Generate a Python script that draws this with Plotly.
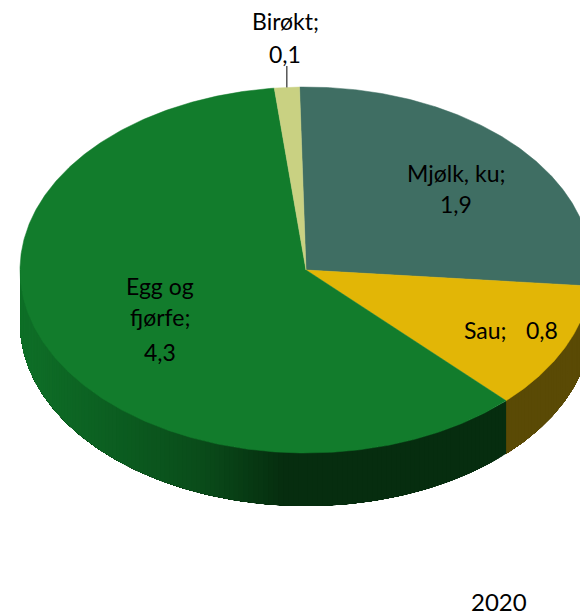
import numpy as np
import plotly.graph_objects as go

categories = ["Mjølk, ku", "Sau", "Egg og fjørfe", "Birøkt"]
values = [1.9, 0.8, 4.3, 0.1]
top_colors = ["#3F6E63", "#E2B606", "#127C2C", "#C9D182"]
side_stops = {
    "Mjølk, ku": [(0, "#1F3731"), (1, "#1F3731")],
    "Sau": [(0, "#5A4A05"), (1, "#5A4A05")],
    "Egg og fjørfe": [(0, "#062D0F"), (0.45, "#062D0F"), (0.62, "#0A4C1A"), (0.8, "#0C5E21"), (1, "#0F7028")],
    "Birøkt": [(0, "#6A7040"), (1, "#6A7040")],
}
label_lines = {
    "Birøkt": [("Birøkt;", 285, 21), ("0,1", 285, 54)],
    "Mjølk, ku": [("Mjølk, ku;", 456, 173), ("1,9", 456, 204)],
    "Sau": [("Sau;", 485, 330), ("0,8", 542, 330)],
    "Egg og fjørfe": [("Egg og", 160, 286), ("fjørfe;", 160, 317), ("4,3", 160, 352)],
}
footer = "2020"

CX, CY, RX, RY, DEPTH = 306, 270, 286, 183, 53
START_DEG = -1.3


def hex_rgb(c):
    return np.array([int(c[i:i + 2], 16) for i in (1, 3, 5)], float)


def stop_color(stops, f):
    fs = [s[0] for s in stops]
    rgb = np.array([hex_rgb(s[1]) for s in stops])
    v = [np.interp(f, fs, rgb[:, i]) for i in range(3)]
    return "rgb(%d,%d,%d)" % tuple(v)


def pt(deg):
    t = np.radians(deg)
    return CX + RX * np.sin(t), CY - RY * np.cos(t)


fig = go.Figure()
total = sum(values)
angles = np.concatenate([[0], np.cumsum(values)]) / total * 360 + START_DEG

# Side wall: only the front half of the ellipse (90..270 degrees) is visible.
# Each band reaches all the way to the far end, painted over by the next one,
# so no seams appear between neighbouring bands.
for cat, a0, a1 in zip(categories, angles[:-1], angles[1:]):
    lo, hi = max(a0, 90), min(a1, 270)
    if lo >= hi:
        continue
    starts = np.arange(lo, hi, 1.0)
    xa, _ = pt(lo)
    xb, _ = pt(hi)
    for e0 in starts:
        arc = np.linspace(e0, hi, max(int((hi - e0) * 2), 2))
        xs, ys = pt(arc)
        f = (xa - pt(e0)[0]) / (xa - xb) if cat == "Egg og fjørfe" else 0
        col = stop_color(side_stops[cat], f)
        fig.add_trace(go.Scatter(
            x=np.r_[xs, xs[::-1], xs[0]], y=np.r_[ys, ys[::-1] + DEPTH, ys[0]],
            mode="lines", fill="toself", fillcolor=col,
            line=dict(color=col, width=0), hoverinfo="skip", showlegend=False))

# Top face
for cat, col, a0, a1 in zip(categories, top_colors, angles[:-1], angles[1:]):
    arc = np.linspace(a0, a1, max(int((a1 - a0) * 2), 4))
    xs, ys = pt(arc)
    fig.add_trace(go.Scatter(
        x=np.r_[CX, xs, CX], y=np.r_[CY, ys, CY],
        mode="lines", fill="toself", fillcolor=col,
        line=dict(color=col, width=0.5), name=cat, hoverinfo="name", showlegend=False))

# Leader line for the small slice
bi_mid = (angles[3] + angles[4]) / 2
lx, ly = pt(bi_mid)
fig.add_trace(go.Scatter(x=[lx, lx], y=[66, ly], mode="lines",
                         line=dict(color="#000000", width=1),
                         hoverinfo="skip", showlegend=False))

for cat in categories:
    for text, x, y in label_lines[cat]:
        fig.add_annotation(x=x, y=y, text=text, showarrow=False,
                           font=dict(family="Lato", size=23, color="#000000"))
fig.add_annotation(x=499, y=601, text=footer, showarrow=False,
                   font=dict(family="Lato", size=24, color="#000000"))

fig.update_layout(
    width=580, height=616, margin=dict(l=0, r=0, t=0, b=0),
    paper_bgcolor="#FFFFFF", plot_bgcolor="#FFFFFF", showlegend=False,
    xaxis=dict(range=[0, 580], visible=False, fixedrange=True),
    yaxis=dict(range=[616, 0], visible=False, fixedrange=True),
)
fig.write_html("out.html", config=dict(displayModeBar=False),
               post_script="document.body.style.margin='0';document.body.style.overflow='hidden';")
